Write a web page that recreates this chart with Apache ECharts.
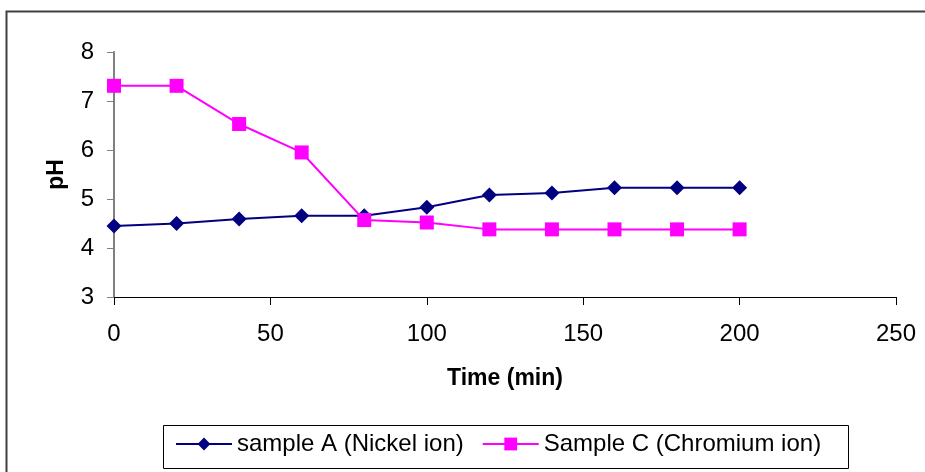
<!DOCTYPE html>
<html><head><meta charset="utf-8">
<script src="https://cdn.jsdelivr.net/npm/echarts@6/dist/echarts.min.js"></script>
<style>html,body{margin:0;padding:0;background:#fff}#c{width:925px;height:472px}</style>
</head><body><div id="c"></div>
<script>
const times = [0, 20, 40, 60, 80, 100, 120, 140, 160, 180, 200];
const nickel = [4.45, 4.5, 4.59, 4.66, 4.66, 4.83, 5.08, 5.12, 5.23, 5.23, 5.23];
const chromium = [7.31, 7.31, 6.53, 5.95, 4.57, 4.52, 4.38, 4.38, 4.38, 4.38, 4.38];
const seriesNames = ['sample A (Nickel ion)', 'Sample C (Chromium ion)'];
const xTitle = 'Time (min)';
const yTitle = 'pH';

const font = 'Liberation Sans, Arial, sans-serif';
const chart = echarts.init(document.getElementById('c'), null, {renderer: 'canvas'});
chart.setOption({
  animation: false,
  backgroundColor: '#fff',
  graphic: [{
    type: 'polyline', silent: true,
    shape: {points: [[6.5, 480], [6.5, 11.5], [930, 11.5]]},
    style: {stroke: '#404040', lineWidth: 2, fill: null}
  }, {
    type: 'rect', silent: true, z: -1,
    shape: {x: 163.5, y: 425.5, width: 685, height: 43},
    style: {stroke: '#000', lineWidth: 1, fill: '#fff'}
  }],
  grid: {left: 114, right: 29, top: 52, bottom: 175, containLabel: false},
  xAxis: {
    type: 'value', min: 0, max: 250, interval: 50,
    name: xTitle, nameLocation: 'middle', nameGap: 70,
    nameTextStyle: {fontFamily: font, fontSize: 23, fontWeight: 'bold', color: '#000'},
    axisLine: {show: true, lineStyle: {color: '#000', width: 1}},
    axisTick: {show: true, inside: false, length: 8, lineStyle: {color: '#000'}},
    axisLabel: {fontFamily: font, fontSize: 24, color: '#000', margin: 25},
    splitLine: {show: false}
  },
  yAxis: {
    type: 'value', min: 3, max: 8, interval: 1,
    name: yTitle, nameLocation: 'middle', nameGap: 46, nameRotate: 90,
    nameTextStyle: {fontFamily: font, fontSize: 23, fontWeight: 'bold', color: '#000'},
    axisLine: {show: true, onZero: false, lineStyle: {color: '#808080', width: 2}},
    axisTick: {show: true, length: 7, lineStyle: {color: '#808080'}},
    axisLabel: {fontFamily: font, fontSize: 24, color: '#000', margin: 20},
    splitLine: {show: false}
  },
  legend: {
    left: 175, top: 432, width: 700,
    padding: 0,
    itemGap: 18,
    itemWidth: 56, itemHeight: 16,
    textStyle: {fontFamily: font, fontSize: 24, color: '#000'},
    data: seriesNames
  },
  series: [{
    name: seriesNames[0], type: 'line',
    data: times.map((t, i) => [t, nickel[i]]),
    symbol: 'diamond', symbolSize: 15,
    itemStyle: {color: '#000080'},
    lineStyle: {color: '#000080', width: 2}
  }, {
    name: seriesNames[1], type: 'line',
    data: times.map((t, i) => [t, chromium[i]]),
    symbol: 'rect', symbolSize: 14,
    itemStyle: {color: '#ff00ff'},
    lineStyle: {color: '#ff00ff', width: 2}
  }]
});
</script></body></html>
